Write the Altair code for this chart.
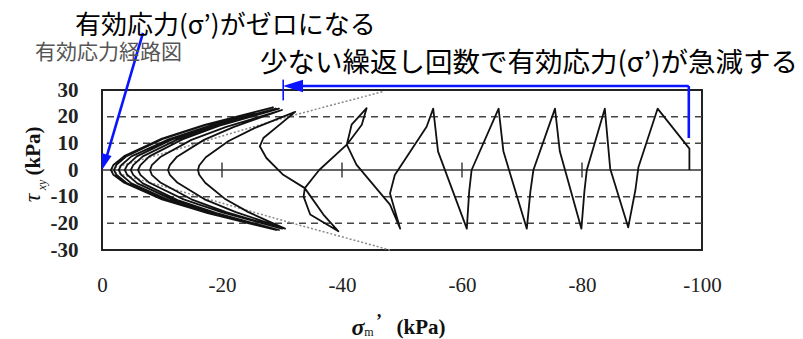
import altair as alt
import pandas as pd

# ---------------- data ----------------
# effective stress path: sigma_m' (kPa) and tau_xy (kPa), in loading order
path_sigma = [
    -97.9, -97.9, -92.6, -89.4, -88.9, -87.7, -84.7, -83.8, -80.8, -80.4, -79.9,
    -76.3, -75.5, -71.9, -71.4, -70.8, -66.9, -66.1, -61.6, -61.2, -60.8,
    -56.0, -55.2, -54.1, -48.8, -48.0, -49.7, -48.0, -42.4, -40.8, -41.6, -44.1,
    -43.3, -40.8, -36.2, -33.8, -33.6, -34.7, -39.4, -36.9, -33.8, -30.2, -27.4,
    -26.3, -26.9, -32.2,
    -25.4, -21.1, -17.3, -16.2, -16.0, -16.2, -17.2, -20.6, -24.4, -30.5,
    -22.3, -17.1, -12.6, -11.3, -11.0, -11.3, -12.5, -17.0, -22.0, -30.0,
    -20.7, -14.9, -9.8, -8.3, -8.0, -8.3, -9.8, -14.9, -20.7, -30.0,
    -19.9, -13.6, -7.9, -6.4, -6.0, -6.4, -7.9, -13.4, -19.6, -29.5,
    -19.1, -12.6, -6.8, -5.2, -4.8, -5.2, -6.8, -12.6, -19.1, -29.5,
    -18.7, -11.9, -5.9, -4.2, -3.8, -4.2, -5.8, -11.7, -18.4, -29.0,
    -17.9, -11.1, -4.9, -3.2, -2.8, -3.2, -4.9, -11.1, -17.9, -29.0,
    -17.6, -10.5, -4.2, -2.4, -2.0, -2.4, -4.1, -10.3, -17.3, -28.5,
    -17.1, -10.0, -3.7, -1.9, -1.5, -1.9, -3.7, -10.0, -17.1, -28.5,
]
path_tau = [
    0, 8, 23, 1, -7.5, -21.5, 0.5, 23, 0, -8, -22,
    7, 23, 0, -8, -22, 7, 23, 0, -8, -22,
    7, 23, 16.2, -1.9, -8.8, -22, -13, 2, 9.5, 17, 23.2,
    17, 9.5, 0, -6.8, -10, -16.7, -23, -16.7, -6.8, -1.8, 4.5,
    8.9, 12, 21.8,
    15.7, 10.9, 4.8, 1.7, 0, -1.8, -4.8, -11, -15.8, -22,
    -15.8, -11, -4.8, -1.8, 0, 1.8, 5, 11.3, 16.2, 22.5,
    16.2, 11.3, 5, 1.8, 0, -1.8, -4.8, -11, -15.8, -22,
    -15.8, -11, -4.8, -1.8, 0, 1.8, 5.1, 11.5, 16.6, 23,
    16.6, 11.5, 5.1, 1.8, 0, -1.8, -5, -11.3, -16.2, -22.5,
    -16.2, -11.3, -5, -1.8, 0, 1.8, 5.1, 11.5, 16.6, 23,
    16.6, 11.5, 5.1, 1.8, 0, -1.8, -5, -11.3, -16.2, -22.5,
    -16.2, -11.3, -5, -1.8, 0, 1.9, 5.2, 11.8, 16.9, 23.5,
    16.9, 11.8, 5.2, 1.9, 0, -1.8, -4.8, -11, -15.8, -22,
]

# failure-envelope like dotted guide lines
env_upper_sigma = [-1.5, -31.0, -47.0]
env_upper_tau = [0.5, 20.0, 29.5]
env_lower_sigma = [-1.5, -31.0, -48.0]
env_lower_tau = [-0.5, -19.5, -30.0]

grid_dashed = [20, 10, -10, -20]
zero_line = [0]
zero_ticks = [-20, -40, -60, -80]
x_ticks = [0, -20, -40, -60, -80, -100]
y_ticks = [30, 20, 10, 0, -10, -20, -30]

ann_texts = ["有効応力(σ’)がゼロになる", "少ない繰返し回数で有効応力(σ’)が急減する"]
chart_title = "有効応力経路図"

# blue annotation segments (sigma, tau) -> (sigma2, tau2)
blue_seg_s = [-6.83, -31.5, -97.8]
blue_seg_t = [51.4, 31.5, 31.5]
blue_seg_s2 = [-0.6, -97.8, -97.8]
blue_seg_t2 = [3.6, 31.5, 12.0]
bar_s = [-30.2]
bar_t = [33.9]
bar_t2 = [26.1]
head1_s, head1_t = [-0.38], [2.9]
head2_s, head2_t = [-31.83], [31.5]

# ---------------- chart ----------------
W, H = 600, 160
xs = alt.Scale(domain=[-100, 0], reverse=True, nice=False, zero=False)
ys = alt.Scale(domain=[-30, 30], nice=False, zero=False)
serif = "Liberation Serif"
jp = "Noto Sans CJK JP"
blue = "#0a14ff"

x_axis = alt.Axis(values=x_ticks, labelExpr="'' + datum.value", labelFont=serif,
                  labelFontSize=21, labelColor="#222", labelPadding=24, ticks=False,
                  tickSize=0, domain=False, grid=False, labelFlush=False,
                  labelOverlap=False, labelBaseline="top")
y_axis = alt.Axis(values=y_ticks, labelExpr="'' + datum.value", labelFont=serif,
                  labelFontSize=21, labelFontWeight="bold", labelColor="#222",
                  labelPadding=24, ticks=False, tickSize=0, domain=False, grid=False,
                  labelOverlap=False)

X = lambda f="s": alt.X(f"{f}:Q", scale=xs, axis=x_axis, title=None)
Y = lambda f="t": alt.Y(f"{f}:Q", scale=ys, axis=y_axis, title=None)

path_df = pd.DataFrame({"s": path_sigma, "t": path_tau, "i": range(len(path_sigma))})
env_df = pd.DataFrame({
    "s": env_upper_sigma + env_lower_sigma,
    "t": env_upper_tau + env_lower_tau,
    "g": ["u"] * len(env_upper_sigma) + ["l"] * len(env_lower_sigma),
    "i": list(range(len(env_upper_sigma))) + list(range(len(env_lower_sigma))),
})

grid = alt.Chart(pd.DataFrame({"t": grid_dashed})).mark_rule(
    strokeDash=[7, 5], color="#444", strokeWidth=1.5).encode(y=Y())
zero = alt.Chart(pd.DataFrame({"t": zero_line})).mark_rule(
    color="#333", strokeWidth=1.6).encode(y=Y())
zt = alt.Chart(pd.DataFrame({"s": zero_ticks, "t": [-2.8] * 4, "t2": [2.8] * 4})).mark_rule(
    color="#333", strokeWidth=1.4).encode(x=X(), y=Y(), y2="t2:Q")
env = alt.Chart(env_df).mark_line(strokeDash=[2, 2], color="#888", strokeWidth=1.5).encode(
    x=X(), y=Y(), detail="g:N", order="i:Q")
path = alt.Chart(path_df).mark_line(color="#111", strokeWidth=1.8, strokeJoin="round").encode(
    x=X(), y=Y(), order="i:Q")

blue_df = pd.DataFrame({"s": blue_seg_s, "t": blue_seg_t, "s2": blue_seg_s2, "t2": blue_seg_t2})
blue_lines = alt.Chart(blue_df).mark_rule(color=blue, strokeWidth=2.6).encode(
    x=X(), y=Y(), x2="s2:Q", y2="t2:Q")
bar = alt.Chart(pd.DataFrame({"s": bar_s, "t": bar_t, "t2": bar_t2})).mark_rule(
    color=blue, strokeWidth=1.6).encode(x=X(), y=Y(), y2="t2:Q")
head1 = alt.Chart(pd.DataFrame({"s": head1_s, "t": head1_t})).mark_point(
    shape="M 0 -1 L 0.65 1 L -0.65 1 Z", filled=True, color=blue, opacity=1,
    size=256, angle=196.7).encode(x=X(), y=Y())
head2 = alt.Chart(pd.DataFrame({"s": head2_s, "t": head2_t})).mark_point(
    shape="M -1 0 L 1 -0.62 L 1 0.62 Z", filled=True, color=blue, opacity=1,
    size=400).encode(x=X(), y=Y())


def txt(text, x, y, size, font=serif, color="#111", align="left", angle=0,
        weight="normal", style="normal"):
    return alt.Chart(pd.DataFrame({"label": [text]})).mark_text(
        align=align, baseline="middle", font=font, fontSize=size, color=color,
        angle=angle, fontWeight=weight, fontStyle=style).encode(
        text="label:N", x=alt.value(x), y=alt.value(y))


texts = [
    txt(chart_title, -67, -37, 21, font=jp, color="#555"),
    txt(ann_texts[0], -27, -64, 26, font=jp, color="#000"),
    txt(ann_texts[1], 158, -26, 27.5, font=jp, color="#000"),
    txt("τ", -69, 108, 24, align="center", angle=270, style="italic"),
    txt("xy", -60, 95, 12, align="center", angle=270, style="italic"),
    txt("(kPa)", -68, 61, 21, align="center", angle=270, weight="bold"),
    txt("σ", 256, 238, 24, align="center", style="italic", weight="bold"),
    txt("m", 267, 242, 12, align="center"),
    txt("’", 277, 232, 18, align="center", weight="bold"),
    txt("(kPa)", 319, 238, 21, align="center", weight="bold"),
]

chart = alt.layer(grid, zero, zt, env, path, blue_lines, bar, head1, head2, *texts).properties(
    width=W, height=H,
    padding={"left": 94, "top": 82, "right": 93, "bottom": 90},
    autosize=alt.AutoSizeParams(type="none"),
    background="white",
).configure_view(stroke="#222", strokeWidth=2)

chart.save("out.html", embed_options={"renderer": "svg", "actions": False})
